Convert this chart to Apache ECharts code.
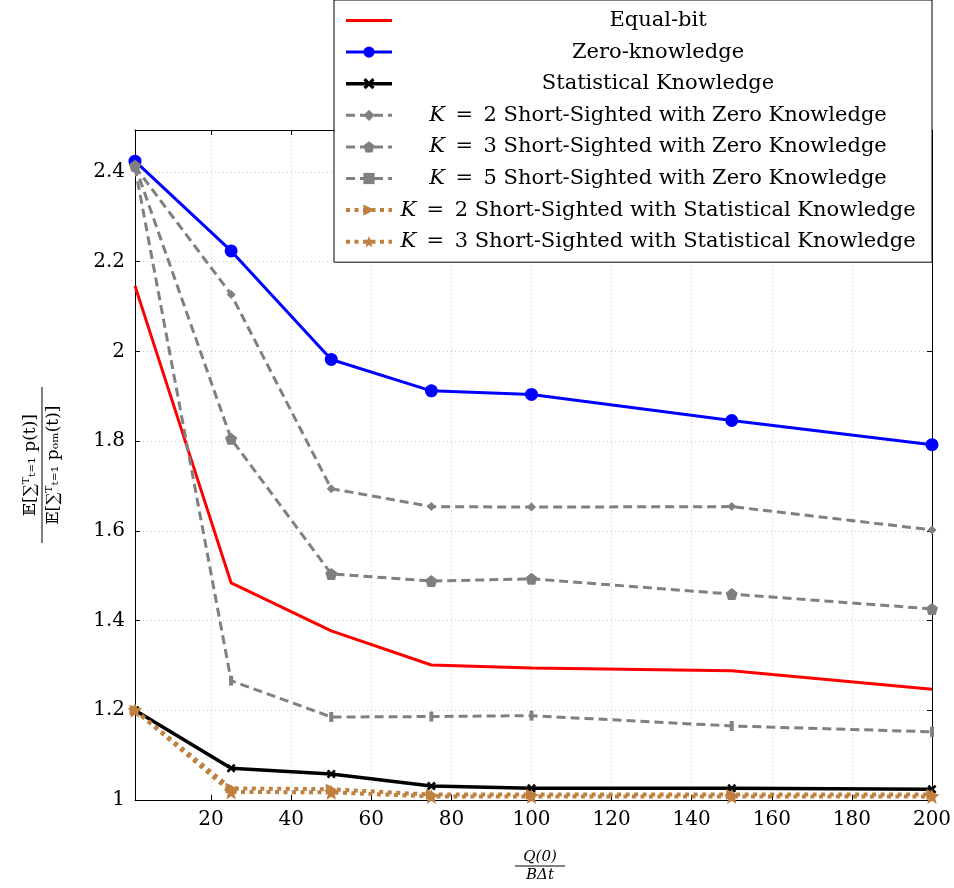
<!DOCTYPE html>
<html>
<head>
<meta charset="utf-8">
<script src="https://cdn.jsdelivr.net/npm/echarts@6/dist/echarts.min.js"></script>
<style>
  html, body { margin: 0; padding: 0; background: #fff; }
  #chart { width: 954px; height: 888px; }
</style>
</head>
<body>
<div id="chart"></div>
<script>
// Q(0)/(B dt) sample points
var xValues = [1, 25, 50, 75, 100, 150, 200];

// ratio E[sum p] / E[sum p_om]
var equalBit      = [2.146, 1.484, 1.377, 1.301, 1.294, 1.288, 1.247];
var zeroKnowledge = [2.424, 2.224, 1.982, 1.912, 1.904, 1.846, 1.792];
var statKnowledge = [1.200, 1.071, 1.058, 1.031, 1.026, 1.026, 1.024];
var k2Zero        = [2.412, 2.127, 1.694, 1.654, 1.653, 1.654, 1.602];
var k3Zero        = [2.414, 1.805, 1.504, 1.488, 1.493, 1.459, 1.426];
var k5Zero        = [2.410, 1.266, 1.185, 1.186, 1.188, 1.165, 1.152];
var k2Stat        = [1.200, 1.026, 1.024, 1.012, 1.012, 1.012, 1.012];
var k3Stat        = [1.200, 1.018, 1.017, 1.008, 1.008, 1.008, 1.008];

var xTicks = [20, 40, 60, 80, 100, 120, 140, 160, 180, 200];
var yTicks = [1, 1.2, 1.4, 1.6, 1.8, 2, 2.2, 2.4];

var names = [
  "Equal-bit",
  "Zero-knowledge",
  "Statistical Knowledge",
  "K = 2 Short-Sighted with Zero Knowledge",
  "K = 3 Short-Sighted with Zero Knowledge",
  "K = 5 Short-Sighted with Zero Knowledge",
  "K = 2 Short-Sighted with Statistical Knowledge",
  "K = 3 Short-Sighted with Statistical Knowledge"
];

var serif = '"DejaVu Serif", "Liberation Serif", serif';
var gray = "#808080", brown = "#BF8040";
var legendFont = 21, legendTextWidth = 522;

function pairs(ys) {
  return xValues.map(function (x, i) { return [x, ys[i]]; });
}

// split "K = n ..." so K can be italic, with wider math spacing round "="
function parts(name) {
  if (name.indexOf("K = ") !== 0) return { k: false, rest: name };
  return { k: true, rest: "\u2002=\u2002" + name.slice(4) };
}

// measure text so entries can be centred in their column like pgfplots does
var ctx = document.createElement("canvas").getContext("2d");
function textWidth(name) {
  var p = parts(name);
  ctx.font = legendFont + "px " + serif;
  var w = ctx.measureText(p.rest).width;
  if (p.k) {
    ctx.font = "italic " + legendFont + "px " + serif;
    w += ctx.measureText("K").width;
  }
  return w;
}

var markCross = "path://M0,2 L2,0 L5,3 L8,0 L10,2 L7,5 L10,8 L8,10 L5,7 L2,10 L0,8 L3,5 Z";
var markPenta = "path://M5,0 L10,3.8 L8.1,10 L1.9,10 L0,3.8 Z";
var markStar = "path://M5,0 L6.3,3.3 L10,3.6 L7.2,6 L8.1,10 L5,7.9 L1.9,10 L2.8,6 L0,3.6 L3.7,3.3 Z";

var dash = [9, 5], dots = [4, 4.5];

function line(name, data, color, width, type, symbol, size, extra) {
  var s = {
    name: name,
    type: "line",
    data: pairs(data),
    symbol: symbol,
    symbolSize: size,
    showSymbol: symbol !== "none",
    lineStyle: { color: color, width: width, type: type, cap: "butt" },
    itemStyle: { color: color },
    emphasis: { disabled: true },
    animation: false
  };
  for (var key in extra) s[key] = extra[key];
  return s;
}

var series = [
  line(names[0], equalBit, "#FF0000", 3, "solid", "none", 0),
  line(names[1], zeroKnowledge, "#0000FF", 3, "solid", "circle", 13),
  line(names[2], statKnowledge, "#000000", 3.5, "solid", markCross, 9),
  line(names[3], k2Zero, gray, 3, dash, "diamond", 9),
  line(names[4], k3Zero, gray, 3, dash, markPenta, 12),
  line(names[5], k5Zero, gray, 3, dash, "rect", [4, 10]),
  line(names[6], k2Stat, brown, 4, dots, "triangle", 11, { symbolRotate: -90 }),
  line(names[7], k3Stat, brown, 4, dots, markStar, 15)
];

var richBase = { fontFamily: serif, fontSize: legendFont, color: "#000", lineHeight: 20 };
var rich = {
  k: Object.assign({ fontStyle: "italic" }, richBase),
  t: richBase
};
names.forEach(function (n, i) {
  rich["s" + i] = { width: Math.max(0, (legendTextWidth - textWidth(n)) / 2), lineHeight: 20 };
});

var legendData = names.map(function (n, i) {
  var item = { name: n, lineStyle: { width: series[i].lineStyle.width } };
  // Equal-bit is drawn without markers, so hide the legend dot
  if (i === 0) item.itemStyle = { opacity: 0 };
  return item;
});

function axisBase(ticks) {
  return {
    type: "value",
    axisLine: { show: true, onZero: false, lineStyle: { color: "#000", width: 1 } },
    axisTick: { show: true, inside: true, length: 5, customValues: ticks, lineStyle: { color: "#000" } }
  };
}

var chart = echarts.init(document.getElementById("chart"), null, { renderer: "canvas" });

chart.setOption({
  backgroundColor: "#fff",
  animation: false,
  textStyle: { fontFamily: serif, color: "#000" },
  grid: { left: 135, right: 22, top: 130, bottom: 88, containLabel: false, outerBoundsMode: "none" },
  xAxis: [
    Object.assign(axisBase(xTicks), {
      min: 1, max: 200,
      axisLabel: { customValues: xTicks, color: "#000", fontSize: 20, fontFamily: serif, margin: 10 },
      splitLine: { show: true, lineStyle: { color: "#c8c8c8", width: 1, type: [1, 3] } }
    }),
    Object.assign(axisBase(xTicks), {
      position: "top", min: 1, max: 200,
      axisLabel: { show: false }, splitLine: { show: false }
    })
  ],
  yAxis: [
    Object.assign(axisBase(yTicks), {
      min: 1, max: 2.4935,
      axisLabel: {
        customValues: yTicks, color: "#000", fontSize: 20, fontFamily: serif, margin: 10,
        formatter: function (v) { return String(Number(v.toFixed(1))); }
      },
      splitLine: { show: true, lineStyle: { color: "#c8c8c8", width: 1, type: [1, 3] } }
    }),
    Object.assign(axisBase(yTicks), {
      position: "right", min: 1, max: 2.4935,
      axisLabel: { show: false }, splitLine: { show: false }
    })
  ],
  legend: {
    orient: "vertical",
    right: 22,
    top: 0,
    z: 20,
    padding: [10, 13, 10, 10],
    itemGap: 10.6,
    itemWidth: 46,
    itemHeight: 14,
    backgroundColor: "#fff",
    borderColor: "#000",
    borderWidth: 1,
    borderRadius: 0,
    selectedMode: false,
    data: legendData,
    formatter: function (name) {
      var i = names.indexOf(name);
      var p = parts(name);
      return "{s" + i + "|}" + (p.k ? "{k|K}" : "") + "{t|" + p.rest + "}" + "{s" + i + "|}";
    },
    textStyle: { rich: rich }
  },
  graphic: [
    {
      // y-axis label: E[sum p(t)] / E[sum p_om(t)], rotated
      type: "group",
      x: 42,
      y: 465,
      rotation: Math.PI / 2,
      children: [
        { type: "text", x: 0, y: -3, style: { text: "\ud835\udd3c[\u2211\u1d40\u209c\u208c\u2081 p(t)]", font: "17px " + serif, fill: "#000", textAlign: "center", textVerticalAlign: "bottom" } },
        { type: "line", shape: { x1: -78, y1: 0, x2: 78, y2: 0 }, style: { stroke: "#000", lineWidth: 1 } },
        { type: "text", x: 0, y: 3, style: { text: "\ud835\udd3c[\u2211\u1d40\u209c\u208c\u2081 p\u2092\u2098(t)]", font: "17px " + serif, fill: "#000", textAlign: "center", textVerticalAlign: "top" } }
      ]
    },
    {
      // x-axis label: Q(0) / (B dt)
      type: "group",
      x: 540,
      y: 866,
      children: [
        { type: "text", x: 0, y: -1, style: { text: "Q(0)", font: "italic 15px " + serif, fill: "#000", textAlign: "center", textVerticalAlign: "bottom" } },
        { type: "line", shape: { x1: -25, y1: 0, x2: 25, y2: 0 }, style: { stroke: "#000", lineWidth: 1 } },
        { type: "text", x: 0, y: 2, style: { text: "B\u0394t", font: "italic 15px " + serif, fill: "#000", textAlign: "center", textVerticalAlign: "top" } }
      ]
    }
  ],
  series: series
});
</script>
</body>
</html>
